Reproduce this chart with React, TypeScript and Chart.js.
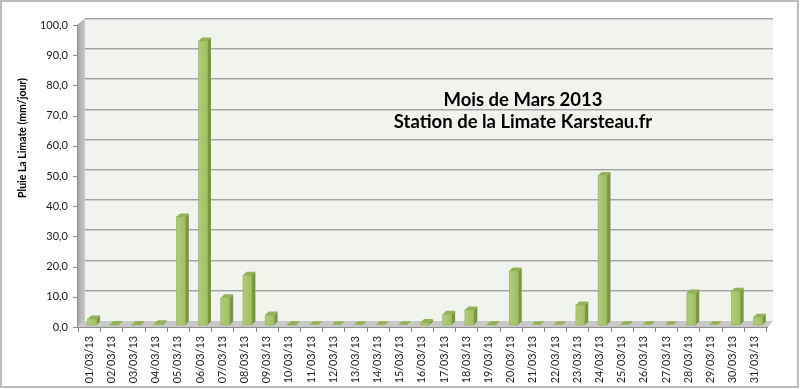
import React, { useEffect, useRef } from "react";
import { Chart, registerables } from "chart.js";

Chart.register(...registerables);

const days = [
  "01/03/13", "02/03/13", "03/03/13", "04/03/13", "05/03/13", "06/03/13", "07/03/13", "08/03/13",
  "09/03/13", "10/03/13", "11/03/13", "12/03/13", "13/03/13", "14/03/13", "15/03/13", "16/03/13",
  "17/03/13", "18/03/13", "19/03/13", "20/03/13", "21/03/13", "22/03/13", "23/03/13", "24/03/13",
  "25/03/13", "26/03/13", "27/03/13", "28/03/13", "29/03/13", "30/03/13", "31/03/13",
];

const rain = [
  2.0, 0.2, 0.2, 0.4, 35.8, 94.0, 9.0, 16.5, 3.3, 0.2, 0.1, 0.1, 0.1, 0.1, 0.1, 0.8,
  3.6, 5.0, 0.2, 17.9, 0.1, 0.1, 6.6, 49.5, 0.1, 0.1, 0.1, 10.6, 0.1, 11.2, 2.6,
];

const yMin = 0;
const yMax = 100;
const yStep = 10;

const titleLines = ["Mois de Mars 2013", "Station de la Limate Karsteau.fr"];
const yTitle = "Pluie La Limate (mm/jour)";

const FONT = "Lato, 'Open Sans', sans-serif";

const deco = {
  id: "deco",
  beforeDraw(chart: any) {
    const ctx = chart.ctx as CanvasRenderingContext2D;
    const ys = chart.scales.y;
    const xs = chart.scales.x;
    ctx.save();
    ctx.fillStyle = "#ffffff";
    ctx.fillRect(0, 0, chart.width, chart.height);
    ctx.strokeStyle = "#BDBDBD";
    ctx.lineWidth = 2;
    ctx.strokeRect(1, 1, chart.width - 3, chart.height - 3);

    const back = (v: number) => ys.getPixelForValue(v) - 5;
    const front = (v: number) => ys.getPixelForValue(v) + 2;
    const L = xs.left + 7;
    const R = xs.right + 7;
    const T = back(yMax);
    const B = back(0) + 1;
    const FL = xs.left - 1;
    const FB = front(0);

    ctx.fillStyle = "#F1F3EE";
    ctx.fillRect(L, T, R - L, B - T);
    const g = ctx.createLinearGradient(FL, 0, L, 0);
    g.addColorStop(0, "#A4A4A4");
    g.addColorStop(1, "#C9C9C9");
    ctx.fillStyle = g;
    ctx.beginPath();
    ctx.moveTo(FL, front(yMax));
    ctx.lineTo(L, T);
    ctx.lineTo(L, B);
    ctx.lineTo(FL, FB);
    ctx.closePath();
    ctx.fill();
    ctx.fillStyle = "#C8C8C8";
    ctx.beginPath();
    ctx.moveTo(FL, FB);
    ctx.lineTo(L, B);
    ctx.lineTo(R, B);
    ctx.lineTo(xs.right + 2, FB);
    ctx.closePath();
    ctx.fill();

    for (let v = yMin + yStep; v <= yMax; v += yStep) {
      const y = Math.round(back(v));
      ctx.fillStyle = "#A2A2A2";
      ctx.fillRect(L, y, R - L, 1);
      ctx.fillStyle = "#CFCFCF";
      ctx.fillRect(L, y + 1, R - L, 1);
    }

    ctx.strokeStyle = "#8E8E8E";
    ctx.lineWidth = 1;
    ctx.beginPath();
    ctx.moveTo(FL + 0.5, front(yMax));
    ctx.lineTo(FL + 0.5, FB);
    ctx.moveTo(FL, Math.round(FB) + 0.5);
    ctx.lineTo(xs.right + 2, Math.round(FB) + 0.5);
    for (let v = yMin; v <= yMax; v += yStep) {
      const y = Math.round(front(v)) + 0.5;
      ctx.moveTo(FL - 4, y);
      ctx.lineTo(FL, y);
    }
    const n = days.length;
    for (let i = 0; i <= n; i++) {
      const bx = Math.round(xs.left + (i * (xs.right - xs.left)) / n) + 0.5;
      ctx.moveTo(bx, Math.round(FB));
      ctx.lineTo(bx, Math.round(FB) + 5);
    }
    ctx.stroke();
    ctx.restore();
  },
  afterDatasetsDraw(chart: any) {
    const ctx = chart.ctx as CanvasRenderingContext2D;
    const meta = chart.getDatasetMeta(0);
    const dx = 3.5;
    const dy = 3.5;
    ctx.save();
    meta.data.forEach((el: any) => {
      const w = el.width;
      const cx = el.x + 3;
      const left = cx - w / 2;
      const right = cx + w / 2;
      const top = el.y;
      const base = el.base;
      ctx.fillStyle = "#7A9640";
      ctx.beginPath();
      ctx.moveTo(right, top);
      ctx.lineTo(right + dx, top - dy);
      ctx.lineTo(right + dx, base - dy);
      ctx.lineTo(right, base);
      ctx.closePath();
      ctx.fill();
      ctx.fillStyle = "#93B155";
      ctx.beginPath();
      ctx.moveTo(left, top);
      ctx.lineTo(left + dx, top - dy);
      ctx.lineTo(right + dx, top - dy);
      ctx.lineTo(right, top);
      ctx.closePath();
      ctx.fill();
      if (base - top > 0.5) {
        const gr = ctx.createLinearGradient(left, 0, right, 0);
        gr.addColorStop(0, "#B2CC78");
        gr.addColorStop(1, "#A1BF63");
        ctx.fillStyle = gr;
        ctx.fillRect(left, top, w, base - top);
        ctx.strokeStyle = "#8FAD52";
        ctx.lineWidth = 0.6;
        ctx.strokeRect(left, top, w, base - top);
      }
    });
    ctx.restore();
  },
  afterDraw(chart: any) {
    const ctx = chart.ctx as CanvasRenderingContext2D;
    ctx.save();
    ctx.fillStyle = "#000000";
    ctx.textAlign = "center";
    ctx.textBaseline = "middle";
    ctx.font = `bold 18.5px ${FONT}`;
    ctx.fillText(titleLines[0], 523, 100);
    ctx.fillText(titleLines[1], 523, 122);
    ctx.translate(23, 138);
    ctx.rotate(-Math.PI / 2);
    ctx.font = `bold 10.5px ${FONT}`;
    ctx.fillText(yTitle, 0, 0);
    ctx.restore();
  },
};

export default function App() {
  const ref = useRef<HTMLCanvasElement | null>(null);
  useEffect(() => {
    document.body.style.margin = "0";
    if (!ref.current) return;
    const chart = new Chart(ref.current, {
      type: "bar",
      data: {
        labels: days,
        datasets: [
          {
            data: rain,
            backgroundColor: "rgba(0,0,0,0)",
            borderWidth: 0,
            barPercentage: 0.4,
            categoryPercentage: 1.0,
          },
        ],
      },
      options: {
        animation: false,
        responsive: false,
        devicePixelRatio: 1,
        layout: { padding: { top: 23, right: 34, left: 0, bottom: 0 } },
        plugins: {
          legend: { display: false },
          tooltip: { enabled: false },
          title: { display: false },
        },
        scales: {
          x: {
            grid: { display: false, drawTicks: false },
            border: { display: false },
            ticks: {
              autoSkip: false,
              maxRotation: 90,
              minRotation: 90,
              padding: 11,
              color: "#1a1a1a",
              font: { family: FONT, size: 10.8 },
            },
            afterFit(scale: any) {
              scale.height = 64;
            },
          },
          y: {
            min: yMin,
            max: yMax,
            grid: { display: false, drawTicks: false },
            border: { display: false },
            ticks: {
              stepSize: yStep,
              padding: 10,
              labelOffset: 2,
              color: "#1a1a1a",
              font: { family: FONT, size: 11 },
              callback: (v: any) => Number(v).toFixed(1).replace(".", ","),
            },
            afterFit(scale: any) {
              scale.width = 78;
            },
          },
        },
      },
      plugins: [deco],
    });
    return () => chart.destroy();
  }, []);
  return (
    <div style={{ width: 800, height: 389 }}>
      <canvas ref={ref} width={800} height={389} style={{ display: "block" }} />
    </div>
  );
}
